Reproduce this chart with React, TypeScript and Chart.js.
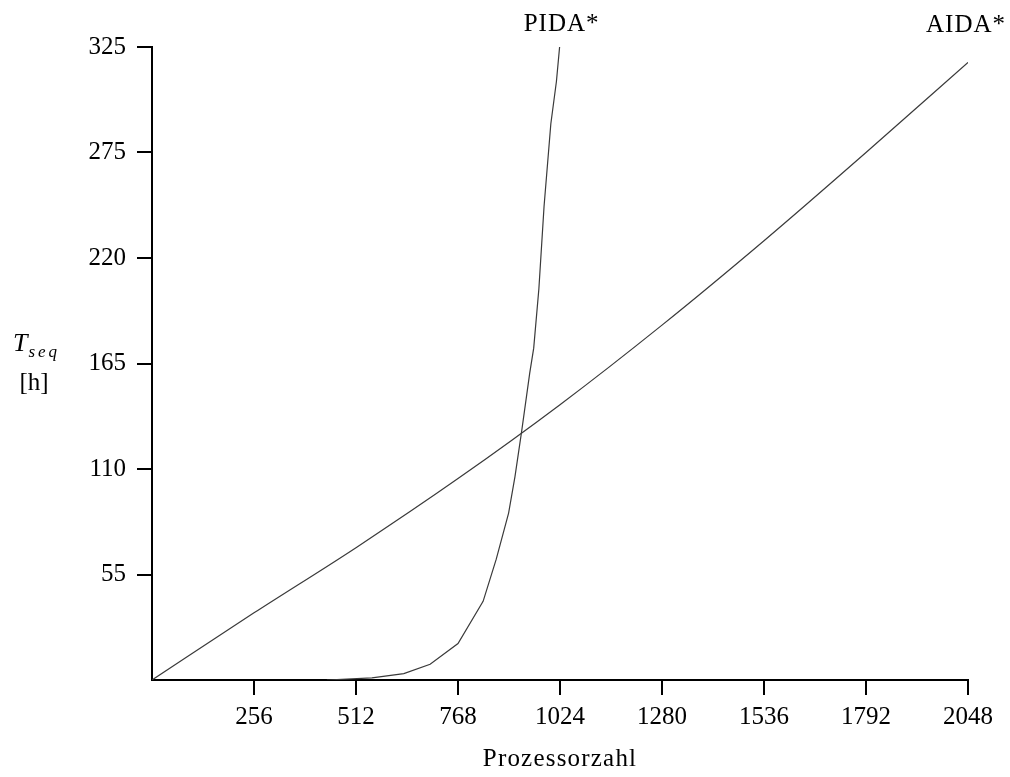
import React, { useEffect, useRef } from "react";
import { Chart, registerables } from "chart.js";

Chart.register(...registerables);

// ---- data ----
const aidaX = [0, 256, 512, 768, 1024, 1280, 1536, 1792, 2048];
const aidaY = [0, 35, 69, 105, 143.5, 185, 229, 275, 322];

const pidaX = [439, 552, 632, 698, 768, 831, 864, 895, 911, 928, 948, 958, 971, 984, 1001, 1015, 1023];
const pidaY = [0, 1.1, 3.3, 8.2, 19, 41, 63, 87, 106, 130, 160, 173, 204, 247, 290, 312, 330];

const xTickLabels = ["", "256", "512", "768", "1024", "1280", "1536", "1792", "2048"];
const yTickLabels = ["", "55", "110", "165", "220", "275", "325"];

const seriesNames = ["AIDA*", "PIDA*"];
const xTitle = "Prozessorzahl";
const yTitleMain = "T";
const yTitleSub = "seq";
const yTitleUnit = "[h]";

const FONT = "'Liberation Serif', 'Times New Roman', serif";

const labelsPlugin = {
  id: "customLabels",
  afterDraw(chart: any) {
    const ctx = chart.ctx as CanvasRenderingContext2D;
    const xs = chart.scales.x;
    const { top, left, right } = chart.chartArea;
    ctx.save();
    ctx.fillStyle = "#000";
    ctx.font = `25px ${FONT}`;
    ctx.textAlign = "center";
    ctx.textBaseline = "alphabetic";
    // series labels above line ends
    const aidaEnd = xs.getPixelForValue(aidaX[aidaX.length - 1]);
    const pidaEnd = xs.getPixelForValue(pidaX[pidaX.length - 1]);
    (ctx as any).letterSpacing = "1px";
    ctx.fillText(seriesNames[1], pidaEnd + 2, top - 16);
    ctx.fillText(seriesNames[0], aidaEnd - 2, top - 15);
    // x title
    (ctx as any).letterSpacing = "1.2px";
    ctx.fillText(xTitle, (left + right) / 2, 766);
    // y title
    ctx.textAlign = "left";
    ctx.font = `italic 26px ${FONT}`;
    (ctx as any).letterSpacing = "0px";
    ctx.fillText(yTitleMain, 13, 351);
    const tw = ctx.measureText(yTitleMain).width;
    ctx.font = `italic 17px ${FONT}`;
    (ctx as any).letterSpacing = "3px";
    ctx.fillText(yTitleSub, 13 + tw + 1, 357);
    (ctx as any).letterSpacing = "0px";
    ctx.font = `25px ${FONT}`;
    ctx.textAlign = "center";
    ctx.fillText(yTitleUnit, 34, 390);
    ctx.restore();
  },
};

export default function App() {
  const ref = useRef<HTMLCanvasElement | null>(null);
  useEffect(() => {
    if (!ref.current) return;
    const tickColor = (c: any) => (c.tick && c.tick.value === 0 ? "rgba(0,0,0,0)" : "#000");
    const chart = new Chart(ref.current, {
      type: "line",
      data: {
        datasets: [
          {
            label: seriesNames[0],
            data: aidaX.map((x, i) => ({ x, y: aidaY[i] })),
            borderColor: "#3a3a3a",
            borderWidth: 1.2,
            pointRadius: 0,
            cubicInterpolationMode: "monotone",
            fill: false,
          },
          {
            label: seriesNames[1],
            data: pidaX.map((x, i) => ({ x, y: pidaY[i] })),
            borderColor: "#3a3a3a",
            borderWidth: 1.2,
            pointRadius: 0,
            tension: 0,
            fill: false,
          },
        ],
      },
      options: {
        animation: false,
        responsive: false,
        events: [],
        layout: { padding: { top: 47, right: 42, left: 0, bottom: 0 } },
        plugins: { legend: { display: false }, tooltip: { enabled: false } },
        scales: {
          x: {
            type: "linear",
            min: 0,
            max: 2048,
            afterFit: (s: any) => {
              s.height = 97;
            },
            afterBuildTicks: (s: any) => {
              s.ticks = xTickLabels.map((_, i) => ({ value: i * 256 }));
            },
            ticks: {
              autoSkip: false,
              maxRotation: 0,
              color: "#000",
              padding: 7,
              font: { family: FONT, size: 25 },
              callback: (_v: any, i: number) => xTickLabels[i],
            },
            grid: {
              drawOnChartArea: false,
              drawTicks: true,
              tickLength: 15,
              lineWidth: 2,
              color: tickColor,
            },
            border: { display: true, color: "#000", width: 2 },
          },
          y: {
            type: "linear",
            min: 0,
            max: 330,
            afterFit: (s: any) => {
              s.width = 152;
            },
            afterBuildTicks: (s: any) => {
              s.ticks = yTickLabels.map((_, i) => ({ value: i * 55 }));
            },
            ticks: {
              autoSkip: false,
              color: "#000",
              padding: 11,
              font: { family: FONT, size: 25 },
              callback: (_v: any, i: number) => yTickLabels[i],
            },
            grid: {
              drawOnChartArea: false,
              drawTicks: true,
              tickLength: 15,
              lineWidth: 2,
              color: tickColor,
            },
            border: { display: true, color: "#000", width: 2 },
          },
        },
      },
      plugins: [labelsPlugin],
    } as any);
    return () => chart.destroy();
  }, []);
  return (
    <div style={{ position: "absolute", left: 0, top: 0, width: 1010, height: 777, background: "#fff" }}>
      <canvas ref={ref} width={1010} height={777} style={{ width: 1010, height: 777, display: "block" }} />
    </div>
  );
}
